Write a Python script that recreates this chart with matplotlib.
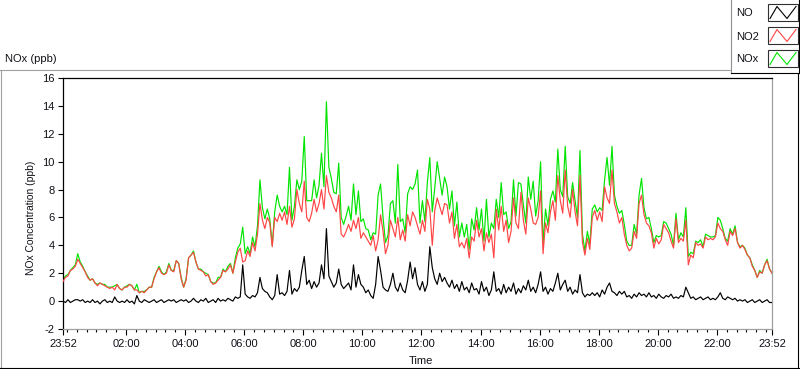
import numpy as np
import matplotlib
matplotlib.use("Agg")
import matplotlib.pyplot as plt
from matplotlib.patches import Rectangle

plt.rcParams['font.family'] = ['Liberation Sans', 'DejaVu Sans']
plt.rcParams['axes.unicode_minus'] = False

# ---- data: 5-minute samples starting at 23:52 (one row per hour) ----
step_min = 5
no2 = [
    1.4, 1.7, 1.8, 2.2, 2.3, 2.5, 3.0, 2.7, 2.4, 2.1, 1.7, 1.5,
    1.6, 1.3, 1.1, 1.3, 1.2, 1.1, 1.0, 0.9, 1.0, 0.8, 1.2, 0.9,
    0.8, 1.0, 1.0, 1.2, 1.1, 0.8, 0.8, 0.6, 0.7, 0.6, 0.8, 1.0,
    1.0, 1.6, 2.1, 2.4, 2.0, 1.9, 2.0, 2.6, 2.2, 2.1, 2.9, 2.7,
    1.6, 1.0, 1.5, 3.1, 3.3, 3.5, 2.8, 2.3, 2.2, 2.1, 1.8, 1.9,
    1.4, 1.2, 1.3, 1.5, 1.7, 2.2, 2.1, 2.3, 2.6, 2.0, 2.8, 3.5,
    3.8, 2.8, 2.9, 3.6, 3.2, 4.2, 3.6, 4.8, 7.0, 5.8, 5.2, 6.0,
    5.6, 3.9, 6.0, 5.7, 6.3, 5.8, 6.4, 5.5, 6.8, 5.3, 5.9, 8.0,
    7.0, 6.4, 8.6, 6.0, 5.7, 6.3, 7.3, 6.4, 7.0, 8.0, 6.6, 9.0,
    7.8, 7.4, 6.8, 6.4, 7.6, 4.8, 4.6, 5.0, 5.5, 5.0, 5.8, 5.2,
    6.0, 4.5, 4.9, 4.6, 4.3, 4.0, 4.7, 3.6, 4.4, 6.2, 5.0, 3.4,
    4.0, 5.8, 5.2, 4.6, 6.0, 4.4, 5.1, 4.3, 6.2, 5.4, 6.4, 6.0,
    5.4, 4.8, 5.8, 5.0, 7.3, 6.6, 4.0, 6.5, 7.4, 6.8, 6.2, 7.0,
    6.9, 5.6, 6.4, 4.5, 5.5, 3.9, 4.2, 3.8, 4.5, 3.1, 4.6, 4.3,
    5.8, 4.6, 5.2, 3.6, 4.9, 4.2, 4.8, 3.1, 6.6, 5.1, 6.8, 5.0,
    5.8, 4.2, 5.0, 7.4, 5.6, 5.2, 7.8, 5.8, 4.8, 7.4, 6.6, 5.6,
    5.5, 6.0, 7.9, 3.4, 5.6, 4.9, 6.4, 7.2, 5.8, 9.0, 7.2, 6.3,
    9.4, 6.8, 6.0, 8.0, 6.4, 5.4, 9.0, 4.2, 3.3, 4.5, 3.7, 6.0,
    6.5, 5.8, 6.4, 5.7, 8.2, 7.4, 7.0, 9.4, 7.0, 6.4, 5.6, 6.0,
    4.8, 4.0, 3.6, 3.8, 5.0, 4.5, 7.0, 7.6, 6.2, 5.6, 5.4, 4.9,
    3.8, 4.5, 4.1, 4.4, 5.5, 5.2, 4.9, 4.3, 3.8, 5.9, 4.2, 4.5,
    4.3, 5.8, 2.6, 3.3, 3.1, 4.2, 4.0, 4.1, 3.8, 4.6, 4.4, 4.5,
    4.4, 4.6, 5.6, 5.2, 5.0, 4.4, 4.0, 5.0, 4.7, 5.2, 4.2, 3.8,
    4.0, 3.7, 3.3, 3.1, 2.5, 2.2, 1.7, 2.1, 2.0, 2.6, 2.9, 2.3,
    2.0,
]
no = [
    0.0, -0.1, 0.1, -0.1, 0.0, 0.1, 0.1, 0.0, 0.1, -0.1, 0.0, -0.1,
    0.1, -0.1, 0.0, -0.2, 0.0, 0.1, -0.1, 0.0, -0.1, 0.3, 0.0, -0.1,
    0.0, -0.1, 0.1, -0.1, 0.0, -0.2, 0.4, 0.0, -0.1, 0.1, 0.0, -0.1,
    0.0, 0.1, -0.1, 0.0, 0.1, -0.1, 0.0, 0.1, 0.0, 0.1, -0.1, 0.0,
    0.1, 0.0, 0.1, -0.1, 0.0, 0.2, 0.0, -0.1, 0.1, 0.0, 0.2, -0.1,
    0.0, 0.1, -0.1, 0.2, 0.0, 0.1, 0.0, 0.2, 0.1, 0.0, 0.3, 0.2,
    0.3, 2.6, 0.5, 0.3, 0.2, 0.4, 0.3, 0.6, 1.7, 0.9, 0.7, 0.6,
    0.3, 0.1, 0.4, 1.9, 0.5, 0.6, 0.4, 0.7, 2.2, 0.5, 0.9, 0.7,
    1.0, 2.2, 3.2, 1.2, 1.5, 0.9, 1.4, 1.0, 1.3, 2.6, 1.6, 5.2,
    1.8, 1.4, 1.0, 1.3, 2.3, 1.2, 0.9, 1.1, 1.3, 0.8, 2.6, 1.0,
    1.9, 1.2, 1.0, 0.6, 0.8, 0.4, 0.2, 1.2, 3.2, 2.2, 1.0, 0.8,
    0.7, 1.2, 2.0, 1.0, 0.7, 1.3, 0.8, 0.6, 1.5, 2.8, 1.6, 2.4,
    1.2, 0.8, 1.4, 0.7, 1.2, 3.9, 2.4, 1.6, 1.2, 2.0, 1.4, 1.7,
    1.3, 1.0, 1.5, 0.9, 1.2, 0.7, 1.4, 0.8, 1.0, 0.6, 1.3, 0.8,
    0.9, 0.5, 1.4, 0.7, 1.0, 0.4, 0.8, 2.1, 0.7, 0.9, 0.5, 1.2,
    0.6, 1.0, 0.7, 1.3, 0.5, 0.9, 0.6, 1.1, 0.8, 1.5, 0.7, 1.0,
    0.6, 1.2, 2.1, 0.7, 1.0, 0.5, 0.9, 0.7, 1.3, 2.0, 0.8, 1.2,
    1.5, 0.7, 1.0, 0.5, 0.8, 0.6, 1.9, 0.6, 0.3, 0.5, 0.4, 0.6,
    0.4, 0.6, 0.3, 0.8, 0.5, 1.0, 1.3, 0.7, 0.6, 0.4, 0.7, 0.5,
    0.7, 0.3, 0.4, 0.2, 0.5, 0.3, 0.6, 0.4, 0.5, 0.3, 0.6, 0.3,
    0.4, 0.2, 0.5, 0.3, 0.2, 0.4, 0.3, 0.5, 0.2, 0.3, 0.2, 0.4,
    0.3, 1.0, 0.6, 0.2, 0.3, 0.1, 0.2, 0.3, 0.1, 0.2, 0.3, 0.1,
    0.2, 0.1, 0.3, 0.6, 0.2, 0.1, 0.3, 0.2, 0.1, 0.2, 0.0, 0.1,
    0.0, 0.1, -0.1, 0.0, 0.1, -0.1, 0.0, 0.1, -0.1, 0.0, 0.1, -0.1,
    -0.1,
]
nox = [
    1.5, 1.8, 1.9, 2.2, 2.4, 2.6, 3.4, 2.8, 2.5, 2.1, 1.8, 1.5,
    1.6, 1.3, 1.2, 1.3, 1.2, 1.2, 1.0, 1.0, 1.0, 1.1, 1.2, 0.9,
    0.8, 1.0, 1.1, 1.2, 1.1, 0.8, 1.2, 0.6, 0.7, 0.7, 0.8, 1.0,
    1.0, 1.7, 2.1, 2.5, 2.1, 1.9, 2.1, 2.7, 2.2, 2.2, 2.9, 2.7,
    1.7, 1.0, 1.6, 3.1, 3.3, 3.6, 2.8, 2.3, 2.3, 2.1, 2.0, 1.9,
    1.4, 1.3, 1.3, 1.7, 1.7, 2.3, 2.1, 2.5, 2.7, 2.0, 3.1, 3.8,
    4.1, 5.3, 3.4, 3.9, 3.4, 4.6, 3.9, 5.4, 8.7, 6.7, 5.9, 6.6,
    5.9, 4.0, 6.4, 7.6, 6.8, 6.4, 6.8, 6.2, 9.6, 5.8, 6.8, 8.7,
    8.0, 8.6, 11.8, 7.2, 7.2, 7.2, 8.7, 7.4, 8.3, 10.6, 8.2, 14.3,
    9.6, 8.8, 7.8, 7.7, 9.9, 6.0, 5.5, 6.1, 6.8, 5.8, 8.4, 6.2,
    7.9, 5.7, 5.9, 5.2, 5.1, 4.4, 4.9, 4.8, 7.6, 8.4, 6.0, 4.2,
    4.7, 7.0, 7.2, 5.6, 9.8, 5.7, 5.9, 4.9, 7.7, 8.2, 8.0, 8.4,
    9.4, 5.6, 7.2, 5.7, 8.5, 10.3, 6.4, 8.1, 10.0, 8.8, 7.6, 8.9,
    8.2, 6.6, 7.9, 5.4, 7.1, 4.6, 5.6, 4.6, 5.5, 3.7, 5.9, 5.1,
    6.7, 5.1, 6.6, 4.3, 7.3, 4.6, 5.6, 5.2, 7.3, 6.0, 8.5, 6.2,
    6.4, 5.2, 5.7, 8.7, 6.1, 8.5, 8.4, 6.9, 5.6, 8.9, 7.3, 8.6,
    6.1, 7.2, 10.0, 4.1, 6.6, 5.4, 7.3, 7.9, 7.1, 10.9, 8.0, 7.5,
    11.1, 7.5, 7.0, 8.5, 7.2, 6.0, 10.8, 4.8, 3.6, 5.0, 4.1, 6.6,
    6.9, 6.4, 6.7, 6.5, 8.7, 10.3, 8.3, 11.1, 7.6, 6.8, 6.3, 6.5,
    5.5, 4.3, 4.0, 4.0, 5.5, 4.8, 7.6, 8.8, 6.7, 5.9, 6.0, 5.2,
    4.2, 4.7, 4.6, 4.7, 5.7, 5.6, 5.2, 4.8, 4.0, 6.3, 4.4, 4.9,
    4.6, 6.7, 3.2, 3.5, 3.4, 4.3, 4.2, 4.4, 3.9, 4.8, 4.7, 4.6,
    4.6, 4.7, 6.0, 5.8, 5.2, 4.5, 4.3, 5.2, 4.8, 5.4, 4.2, 3.9,
    4.0, 3.8, 3.3, 3.1, 2.6, 2.2, 1.7, 2.2, 2.0, 2.6, 3.0, 2.3,
    2.0,
]
start_label = "23:52"
x_tick_labels = ["23:52", "02:00", "04:00", "06:00", "08:00", "10:00",
                 "12:00", "14:00", "16:00", "18:00", "20:00", "22:00", "23:52"]
y_ticks = [-2, 0, 2, 4, 6, 8, 10, 12, 14, 16]
series_names = ["NO", "NO2", "NOx"]
series_colors = ["#000000", "#FF4545", "#00E400"]


def clock_to_min(lbl):
    h, m = map(int, lbl.split(":"))
    sh, sm = map(int, start_label.split(":"))
    return ((h * 60 + m) - (sh * 60 + sm)) % 1440


minutes = np.arange(len(no2)) * step_min
total = minutes[-1]
major_pos = [clock_to_min(l) for l in x_tick_labels]
major_pos[-1] = total
minor_pos = np.arange(clock_to_min("00:00"), total, 20)

# ---- figure ----
W, H = 800, 369
fig = plt.figure(figsize=(W / 100, H / 100), dpi=100)
fig.patch.set_facecolor("white")

L, R, T, B = 63, 772, 78, 329
ax = fig.add_axes([L / W, (H - B) / H, (R - L) / W, (B - T) / H])
ax.set_facecolor("white")

lw = 0.85
ax.plot(minutes, nox, color=series_colors[2], lw=lw, zorder=2)
ax.plot(minutes, no2, color=series_colors[1], lw=lw, zorder=3)
ax.plot(minutes, no, color=series_colors[0], lw=lw, zorder=4)

ax.set_xlim(0, total)
ax.set_ylim(-2, 16)
ax.set_yticks(y_ticks)
ax.set_yticklabels([str(v) for v in y_ticks])
ax.set_xticks(major_pos)
ax.set_xticklabels(x_tick_labels)
ax.set_xticks(minor_pos, minor=True)

txt_col = "#101018"
ax.tick_params(axis="y", direction="out", length=3.5, width=0.8, pad=2.5,
               labelsize=8, colors="black", labelcolor=txt_col)
ax.tick_params(axis="x", which="major", direction="out", length=4.5, width=0.8,
               pad=3.0, labelsize=8, colors="black", labelcolor=txt_col)
ax.tick_params(axis="x", which="minor", direction="out", length=2.5, width=0.8,
               colors="black")

for side in ("top", "left"):
    ax.spines[side].set_color("black")
    ax.spines[side].set_linewidth(0.9)
for side in ("bottom", "right"):
    ax.spines[side].set_color("#A0A0A0")
    ax.spines[side].set_linewidth(0.9)

# ---- overlay in pixel coordinates for frame, titles and legend ----
ov = fig.add_axes([0, 0, 1, 1], zorder=-1)
ov.set_xlim(0, W)
ov.set_ylim(H, 0)
ov.axis("off")
ov.patch.set_alpha(0)

ov2 = fig.add_axes([0, 0, 1, 1], zorder=5)
ov2.set_xlim(0, W)
ov2.set_ylim(H, 0)
ov2.axis("off")
ov2.patch.set_alpha(0)

# outer panel frame
ov.plot([0, 731], [69.5, 69.5], color="#A0A0A0", lw=0.8)
ov.plot([0.5, 0.5], [69.5, 367.5], color="#A0A0A0", lw=0.8)
ov.plot([0, 799], [367.5, 367.5], color="black", lw=0.8)
ov.plot([797.5, 797.5], [72.5, 367.5], color="black", lw=0.8)

ov.text(5, 59, "NOx (ppb)", ha="left", va="center", fontsize=8, color=txt_col)
ov.text(31, 218, "NOx Concentration (ppb)", rotation=90, ha="center",
        va="center", fontsize=7.4, color=txt_col)
ov.text((L + R) / 2 + 3, 361, "Time", ha="center", va="center", fontsize=8,
        color=txt_col)

# legend box
ov2.add_patch(Rectangle((730.5, -1), 68, 73.5, facecolor="white",
                        edgecolor="none"))
ov2.plot([730.5, 730.5], [0, 72.5], color="#909090", lw=0.8)
ov2.plot([730.5, 799], [72.5, 72.5], color="black", lw=0.8)
ov2.plot([798.5, 798.5], [0, 72.5], color="black", lw=0.8)
box_tops = [4, 27, 50]
for name, col, top in zip(series_names, series_colors, box_tops):
    ov2.text(736, top + 9.5, name, ha="left", va="center", fontsize=8,
             color=txt_col)
    ov2.add_patch(Rectangle((768, top), 30, 17, facecolor="white",
                            edgecolor="#303030", lw=0.8))
    ov2.plot([770, 777, 787, 796], [top + 14.5, top + 2.5, top + 14.5, top + 2.5],
             color=col, lw=0.8)

fig.savefig("out.png", dpi=100, facecolor="white")
